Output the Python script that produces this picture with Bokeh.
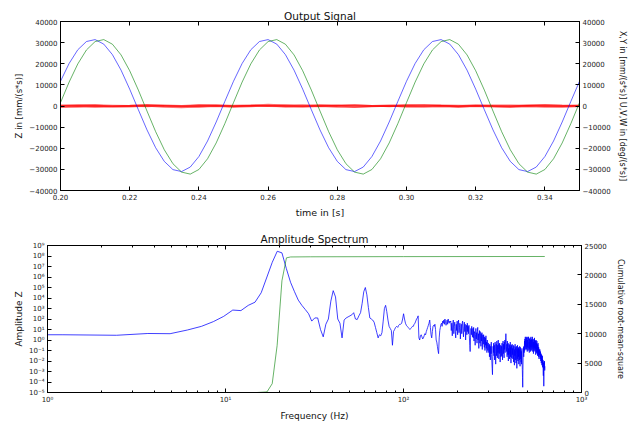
import numpy as np
from bokeh.plotting import figure
from bokeh.layouts import column
from bokeh.models import (Range1d, LinearAxis, LogAxis, LinearScale, FixedTicker,
                          CustomJSTickFormatter)
from bokeh.embed import file_html
from bokeh.resources import INLINE

FONT = "DejaVu Sans"

# ---------------- top panel: output signal ----------------
T_START = 0.20
T_STEP = 0.0025
signal_blue = [
    11720, 20150, 26630, 30520, 31440, 29300, 24320, 16970, 7980, -1770,
    -11320, -19750, -26230, -30120, -31040, -28900, -23920, -16570, -7580, 2170,
    11720, 20150, 26630, 30520, 31440, 29300, 24320, 16970, 7980, -1770,
    -11320, -19750, -26230, -30120, -31040, -28900, -23920, -16570, -7580, 2170,
    11720, 20150, 26630, 30520, 31440, 29300, 24320, 16970, 7980, -1770,
    -11320, -19750, -26230, -30120, -31040, -28900, -23920, -16570, -7580, 2170,
    11720,
]
signal_green = [
    1600, 11340, 19930, 26530, 30500, 31440, 29260, 24180, 16690, 7530,
    -2400, -12140, -20730, -27330, -31300, -32240, -30060, -24980, -17490, -8330,
    1600, 11340, 19930, 26530, 30500, 31440, 29260, 24180, 16690, 7530,
    -2400, -12140, -20730, -27330, -31300, -32240, -30060, -24980, -17490, -8330,
    1600, 11340, 19930, 26530, 30500, 31440, 29260, 24180, 16690, 7530,
    -2400, -12140, -20730, -27330, -31300, -32240, -30060, -24980, -17490, -8330,
    1600,
]
T_STEP_RED = 0.005
red_x = [300, 200, 400, 250, 100, 350, 300, 150, 400, 200, 250, 350, 100, 300, 450, 200,
         250, 300, 150, 350, 400, 200, 300, 250, 100, 350, 300, 200, 400, 250, 300]
red_y = [-600, -400, -200, -500, -300, 0, -400, -700, -300, -100, -400, -200, 200, -300, -500, -100,
         -400, -600, -200, 0, -300, -500, -200, -400, -100, -300, -600, -200, -400, -300, -200]
red_u = [100, 500, 300, -100, 200, 600, 100, -200, 300, 500, 0, 200, 700, 300, -100, 400,
         200, 500, 100, -200, 300, 600, 200, 0, 400, 100, -100, 300, 500, 200, 100]
red_w = [-200, 0, -300, -100, 0, -200, 100, -100, -300, 0, -200, 100, -100, -200, 0, -100,
         200, -300, -100, 0, -200, -100, 100, -300, 0, -100, -200, 100, -100, -300, 0]

time_ticks = [0.20, 0.22, 0.24, 0.26, 0.28, 0.30, 0.32, 0.34]
accel_ticks = [-40000, -30000, -20000, -10000, 0, 10000, 20000, 30000, 40000]

# ---------------- bottom panel: amplitude spectrum ----------------
DF = 1250.0 / 1024.0      # bin width (Hz)
F_START = 1.0             # first plotted frequency (left edge)
spec_log10 = [
    0.5,
    0.5, 0.45, 0.62, 0.6, 0.95, 1.3, 1.75, 2.25, 2.85, 2.8,
    3.3, 3.6, 4.5, 6.0, 7.4, 8.45, 8.3, 6.8, 5.5, 4.6,
    3.8, 3.3, 2.9, 2.5, 1.8, 2.1, 2.1, 1.0, 0.3, 1.5,
    2.0, 3.7, 4.7, 4.1, 2.0, 1.6, 0.2, 1.9, 2.1, 2.2,
    2.3, 2.4, 2.6, 2.0, 1.95, 2.3, 2.6, 3.5, 4.6, 5.0,
    4.3, 3.1, 2.1, 2.0, 1.9, 1.7, 1.2, 0.7, 0.2, 0.5,
    0.4, 0.7, 1.8, 3.0, 3.3, 2.7, 1.9, 1.3, 1.1, 0.9,
    -0.5, 0.8, 1.0, 1.2, 1.3, 1.2, 1.4, 1.5, 1.5, 1.6,
    2.0, 2.5, 2.0, 1.6, 1.4, 1.3, 1.2, 1.1, 1.0, 1.1,
    1.2, 1.3, 1.3, 1.5, 1.6, 1.8, 2.0, 2.1, 2.3, 0.2,
    0.0, 0.4, 0.5, 0.3, 0.1, 0.2, 0.4, 0.6, 0.5, 0.8,
    1.0, 1.2, 1.4, 1.6, 1.9, 1.2, 0.5, 0.2, 0.8, 1.3,
    1.4, 1.3, 1.5, 1.0, 0.0, -0.2, -0.6, -1.0, -1.3, 0.2,
    0.9, 1.2, 1.5, 1.6, 1.3, 1.8, 1.6, 1.9, 1.5, 2.0,
    1.7, 1.4, 1.6, 1.9, 1.5, 2.0, 1.7, 1.6, 1.8, 1.7,
    1.8, 0.9, 1.6, 0.4, 1.5, 1.9, 0.6, 1.3, 1.7, 0.8,
    0.2, 1.5, 0.9, 1.8, 0.5, 1.4, 1.9, 0.7, 1.2, 1.6,
    0.1, 1.1, 1.5, 0.6, 1.6, 1.8, 0.9, 0.3, 1.3, 1.7,
    0.8, 1.5, 0.0, 1.2, 1.4, 0.5, 1.6, 0.8, 1.3, 0.6,
    1.4, 0.4, -0.5, -1.1, 0.2, 1.1, 0.5, 1.3, 0.7, 0.3,
    1.1, 0.2, 1.2, -0.1, 0.8, 0.6, -0.5, 0.5, 1.1, 0.1,
    0.7, -0.3, 0.8, 1.2, 0.0, 0.6, -0.8, 0.4, 0.9, -0.3,
    0.8, 0.1, -0.6, 0.6, -0.1, 0.7, -0.9, 0.3, 0.5, -0.4,
    0.5, -0.2, -0.7, 0.3, -1.0, 0.2, -0.5, 0.4, -0.8, -0.2,
    -1.2, 0.0, -0.6, -1.0, -0.3,
    -0.3, -1.2, -0.5, -1.6, -0.4, -1.0, -1.9, -0.6, -1.3, -0.2,
    -1.4, -2.1, -2.7, -3.3, -1.6, -0.6, -1.2, -0.3, -1.5, -0.5,
    -1.9, -0.8, -0.2, -1.3, -2.3, -0.6, -0.4, -1.5, -0.1, -1.0,
    -1.7, -0.5, -1.2, 0.0, -0.9, -1.8, -0.4, -1.3, -0.3, -1.1,
    -2.1, -1.3, -0.5, -1.6, -0.9,
    -0.6, -1.5, -0.3, -1.2, -1.9, -0.5, -0.1, -1.3, -0.4, -1.1,
    -1.7, -0.2, -0.9, 0.0, -1.2, -0.4, 0.2, 0.6, 0.1, -0.6,
    -1.1, -0.4, -1.6, -0.1, -0.9, -1.4, -0.3, -2.0, -0.8, -1.4,
    -0.4, -1.2, -1.8, -0.5, -1.3, -0.2, -1.6, -0.7, -2.2, -1.0,
    -0.5, -1.7, -1.1, -0.4, -1.4,
    -0.8, -1.8, -1.1, -0.5, -2.1, -1.0, -0.6, -1.7, -2.4, -0.9,
    -1.5, -0.4, -1.9, -1.0, -0.7, -2.2, -1.2, -0.6, -1.4, -2.7,
    -0.9, -1.8, -0.5, -1.3, -2.0, -0.8, -1.6, -0.7, -2.3, -1.2,
    -0.9, -1.9, -0.6, -1.5, -2.5, -1.1, -0.7, -1.8, -1.0, -2.1,
    -1.1, -2.3, -1.3, -0.8, -2.0, -2.8, -3.6, -4.5, -2.9, -1.5,
    -1.0, -0.7, -1.6, -0.6, -1.2,
    -0.8, -0.1, -1.0, 0.1, -0.6, 0.3, -0.5, -0.9, 0.0, -0.7,
    0.3, -0.4, -0.9, 0.2, -0.5, -1.1, 0.0, -0.7, 0.3, -0.3,
    -1.0, -0.4, 0.3, -0.1, -0.8, -0.2, -1.2, 0.1, -0.5, -0.9,
    0.2, -0.7, 0.0, -1.1, -0.3, 0.3, -0.5, -1.0, 0.0, -0.7,
    0.1, -0.9, -0.2, 0.3, -0.6, -1.1, 0.0, -0.7, -0.2, -1.3,
    -0.4, 0.1, -0.8, -0.2, -1.0, 0.2, -0.7, 0.0, -1.1, -0.4,
    -0.8, -0.1, -1.4, -0.5, 0.0, -0.9, -0.3, -1.2, -0.6, -0.1,
    -1.3, -0.4, -1.0, -1.5, -0.5, -1.1, -0.3, -1.4, -0.7, -1.6,
    -0.7, -1.2, -1.8, -0.9, -1.4,
    -1.0, -1.4, -0.9, -1.6, -1.2, -1.8, -1.1, -1.5, -2.0, -1.3,
    -1.7, -2.2, -1.4, -1.9, -1.6, -2.4, -1.8, -2.1, -1.5, -2.6,
    -2.0, -2.3, -1.9, -2.8, -3.4, -2.2, -2.6, -4.4, -3.0, -2.1,
    -2.7, -2.0, -2.4, -2.9, -2.5,
]
rms_freq = [1.0, 15.0, 17.1, 18.3, 19.5, 20.75, 22.0, 23.2, 30.0, 100.0, 622.0]
rms_value = [0, 0, 100, 1500, 8000, 19000, 22900, 23050, 23080, 23110, 23130]

freq_ticks = [1, 10, 100, 1000]
freq_minor = [m * d for d in (1, 10, 100) for m in range(2, 10)]
amp_exponents = list(range(-5, 10))
rms_ticks = [0, 5000, 10000, 15000, 20000, 25000]

# ---------------- helpers ----------------
SUP_JS = """
const m = {'-':'\\u207b','0':'\\u2070','1':'\\u00b9','2':'\\u00b2','3':'\\u00b3','4':'\\u2074',
           '5':'\\u2075','6':'\\u2076','7':'\\u2077','8':'\\u2078','9':'\\u2079'};
const e = Math.round(Math.log10(tick));
return '10' + String(e).split('').map(c => m[c]).join('');
"""
MINUS_JS = "return tick < 0 ? '\\u2212' + Math.abs(tick).toFixed(0) : tick.toFixed(0);"
BLANK_JS = "return '';"


def style_axis(ax, label_size):
    ax.major_tick_in = 4
    ax.major_tick_out = 0
    ax.minor_tick_in = 2
    ax.minor_tick_out = 0
    ax.major_tick_line_color = "black"
    ax.minor_tick_line_color = "black"
    ax.axis_line_color = "black"
    ax.major_label_text_font = FONT
    ax.major_label_text_font_size = "7px"
    ax.major_label_text_color = "#222222"
    ax.major_label_standoff = 3
    ax.axis_label_text_font = FONT
    ax.axis_label_text_font_style = "normal"
    ax.axis_label_text_font_size = label_size
    ax.axis_label_text_color = "#111111"
    ax.axis_label_standoff = 4


def tick_only_axis(ax):
    style_axis(ax, "1px")
    ax.major_label_text_font_size = "0px"
    ax.major_label_standoff = 0
    ax.formatter = CustomJSTickFormatter(code=BLANK_JS)


def style_fig(p):
    p.xgrid.grid_line_color = None
    p.ygrid.grid_line_color = None
    p.outline_line_color = "black"
    p.outline_line_alpha = 1.0
    p.background_fill_color = "white"
    p.border_fill_color = "white"
    p.title.text_font = FONT
    p.title.text_font_style = "normal"
    p.title.text_font_size = "10.5px"
    p.title.align = "center"
    p.title.text_color = "#111111"
    p.title.standoff = 2
    p.frame_align = False


# ---------------- top figure ----------------
p1 = figure(width=630, height=220, x_range=Range1d(0.20, 0.35), y_range=Range1d(-40000, 40000),
            title="Output Signal", output_backend="svg", toolbar_location=None,
            min_border_left=60, min_border_right=51, min_border_top=21, min_border_bottom=27)
style_fig(p1)
p1.title.standoff = 0
p1.extra_y_ranges = {"right": Range1d(-40000, 40000)}
right1 = LinearAxis(y_range_name="right", axis_label="X,Y in [mm/(s*s)] U,V,W in [deg/(s*s)]")
p1.add_layout(right1, "right")
top1 = LinearAxis()
p1.add_layout(top1, "above")

t_sig = T_START + T_STEP * np.arange(len(signal_blue))
t_red = T_START + T_STEP_RED * np.arange(len(red_x))
for series in (red_x, red_y, red_u, red_w):
    p1.line(t_red, series, color="#ff0000", line_alpha=0.55, line_width=1.6)
p1.line(t_sig, signal_blue, color="#0000ff", line_alpha=0.6, line_width=1)
p1.line(t_sig, signal_green, color="#008000", line_alpha=0.6, line_width=1)

bx = p1.below[0]
style_axis(bx, "9.5px")
bx.axis_label = "time in [s]"
bx.ticker = FixedTicker(ticks=time_ticks)
bx.formatter = CustomJSTickFormatter(code="return tick.toFixed(2);")
tick_only_axis(top1)
top1.ticker = FixedTicker(ticks=time_ticks)
ly = p1.left[0]
style_axis(ly, "8.5px")
ly.axis_label = "Z in [mm/(s*s)]"
ly.axis_label_standoff = 2
ly.ticker = FixedTicker(ticks=accel_ticks)
ly.formatter = CustomJSTickFormatter(code=MINUS_JS)
style_axis(right1, "8px")
right1.ticker = FixedTicker(ticks=accel_ticks)
right1.formatter = CustomJSTickFormatter(code=MINUS_JS)

# ---------------- bottom figure ----------------
p2 = figure(width=630, height=203, x_axis_type="log", y_axis_type="log",
            x_range=Range1d(1, 1000), y_range=Range1d(1e-5, 1e9),
            title="Amplitude Spectrum", output_backend="svg", toolbar_location=None,
            min_border_left=47, min_border_right=49, min_border_top=25, min_border_bottom=26)
style_fig(p2)
p2.extra_y_ranges = {"rms": Range1d(0, 25000)}
p2.extra_y_scales = {"rms": LinearScale()}
right2 = LinearAxis(y_range_name="rms", axis_label="Cumulative root-mean-square")
p2.add_layout(right2, "right")
top2 = LogAxis()
p2.add_layout(top2, "above")

spec_freq = np.concatenate([[F_START], DF * np.arange(1, len(spec_log10))])
spec_amp = 10.0 ** np.array(spec_log10)
p2.line(spec_freq, spec_amp, color="#0000ff", line_alpha=0.75, line_width=1)
p2.line(rms_freq, rms_value, y_range_name="rms", color="#008000", line_alpha=0.6, line_width=1)

bx2 = p2.below[0]
style_axis(bx2, "9px")
bx2.axis_label = "Frequency (Hz)"
bx2.ticker = FixedTicker(ticks=freq_ticks, minor_ticks=freq_minor)
bx2.formatter = CustomJSTickFormatter(code=SUP_JS)
tick_only_axis(top2)
top2.ticker = FixedTicker(ticks=freq_ticks, minor_ticks=freq_minor)
ly2 = p2.left[0]
style_axis(ly2, "9px")
ly2.axis_label = "Amplitude Z"
ly2.axis_label_standoff = 2
ly2.ticker = FixedTicker(ticks=[10.0 ** e for e in amp_exponents], minor_ticks=[])
ly2.formatter = CustomJSTickFormatter(code=SUP_JS)
style_axis(right2, "8px")
right2.axis_label_standoff = 6
right2.ticker = FixedTicker(ticks=rms_ticks, minor_ticks=[])

layout = column(p1, p2)
open("out.html", "w").write(file_html(layout, INLINE))
